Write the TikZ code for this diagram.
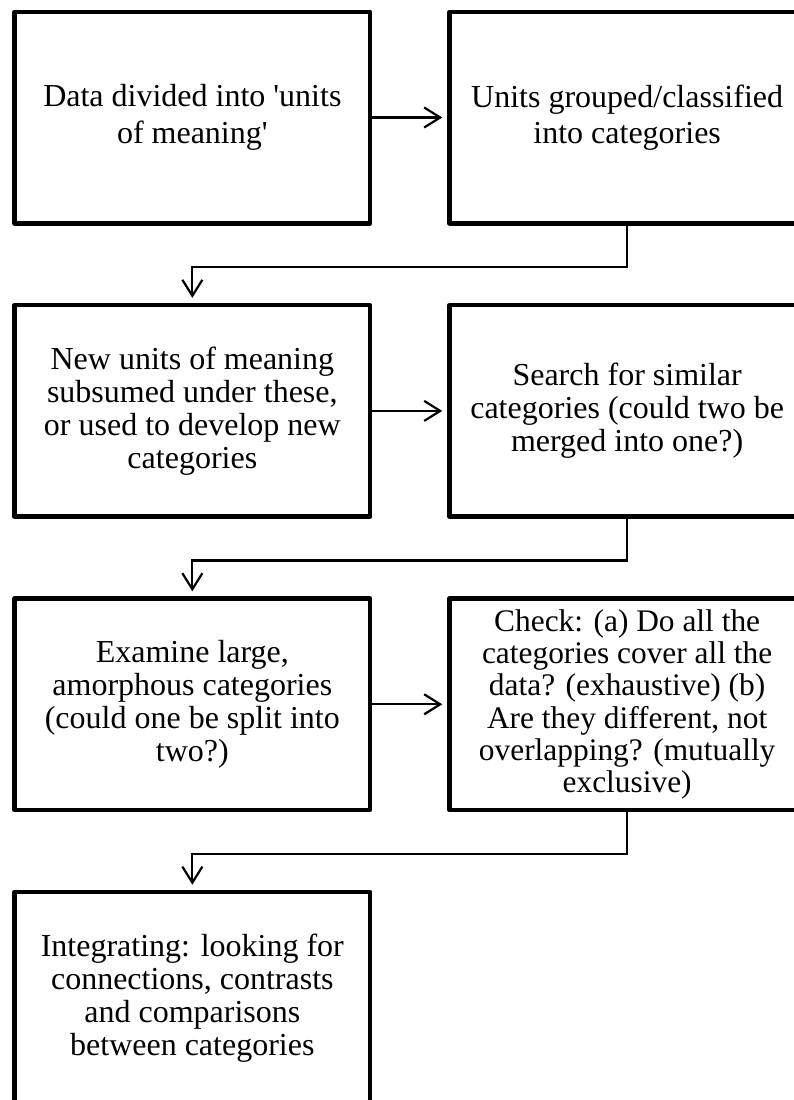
\documentclass[tikz,border=0pt]{standalone}
\usepackage{fontspec}
\setmainfont{Liberation Serif}
\usetikzlibrary{arrows.meta}
\begin{document}
\begin{tikzpicture}[x=1pt,y=-1pt,
  box/.style={draw, line width=4.5pt, line join=round, minimum width=355.3pt,
    minimum height=211.5pt, align=center, inner sep=0pt,
    font=\fontsize{32}{33}\selectfont},
  big/.style={font=\fontsize{32}{36.5}\selectfont},
  tight/.style={font=\fontsize{31.4}{32.3}\selectfont},
  conn/.style={line width=2.2pt, -{Straight Barb[length=16pt,width=20pt]}, shorten >=5pt}
]
\useasboundingbox (0,0) rectangle (794,1100);
\clip (0,0) rectangle (794,1100);

\node[box,big] (a) at (192.35,117.5) {Data divided into \textquotesingle units\\of meaning\textquotesingle};
\node[box,big] (b) at (627.15,117.5) {Units grouped/classified\\into categories};
\node[box] (c) at (192.35,410.9) {New units of meaning\\subsumed under these,\\or used to develop new\\categories};
\node[box] (d) at (627.15,410.9) {Search for similar\\categories (could two be\\merged into one?)};
\node[box] (e) at (192.35,704.3) {Examine large,\\amorphous categories\\(could one be split into\\two?)};
\node[box,tight] (f) at (627.15,704.3) {Check: (a) Do all the\\categories cover all the\\data? (exhaustive) (b)\\Are they different, not\\overlapping? (mutually\\exclusive)};
\node[box] (g) at (192.35,997.7) {Integrating: looking for\\connections, contrasts\\and comparisons\\between categories};

\draw[conn] (a.east) -- (b.west);
\draw[conn] (c.east) -- (d.west);
\draw[conn] (e.east) -- (f.west);

\draw[conn] (b.south) -- ++(0,41.5) -| (c.north);
\draw[conn] (d.south) -- ++(0,41.5) -| (e.north);
\draw[conn] (f.south) -- ++(0,41.5) -| (g.north);
\end{tikzpicture}
\end{document}
